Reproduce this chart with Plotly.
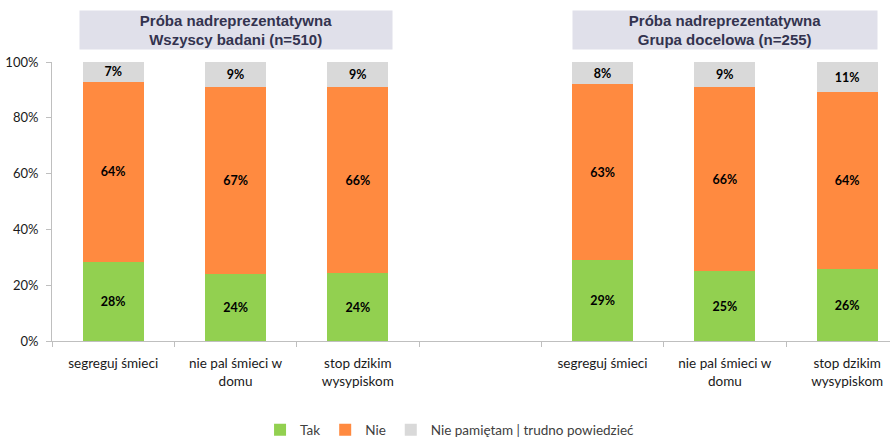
import plotly.graph_objects as go

# ---- data ----
groups = ["Wszyscy badani (n=510)", "Grupa docelowa (n=255)"]
group_ids = ["all", "target"]
categories = ["segreguj śmieci", "nie pal śmieci w<br>domu", "stop dzikim<br>wysypiskom"]
series_names = ["Tak", "Nie", "Nie pamiętam | trudno powiedzieć"]
tak_all = [28, 24, 24]
nie_all = [64, 67, 66]
np_all = [7, 9, 9]
tak_target = [29, 25, 26]
nie_target = [63, 66, 64]
np_target = [8, 9, 11]
title_prefix = "Próba nadreprezentatywna"

colors = ["#92D050", "#FF8A40", "#D9D9D9"]

# build category ids: group1 cats, a gap slot, group2 cats
ids_all = [f"{group_ids[0]}|{c}" for c in categories]
ids_target = [f"{group_ids[1]}|{c}" for c in categories]
gap_id = "gap"
cat_order = ids_all + [gap_id] + ids_target
tick_text = categories + [""] + categories

series_all = [tak_all, nie_all, np_all]
series_target = [tak_target, nie_target, np_target]

fig = go.Figure()
for name, col, va, vt in zip(series_names, colors, series_all, series_target):
    vals = va + vt
    fig.add_trace(go.Bar(
        x=ids_all + ids_target,
        y=vals,
        name=name,
        marker=dict(color=col, line=dict(width=0)),
        width=0.5,
        text=[f"{v}%" for v in vals],
        texttemplate="%{text}",
        textposition="inside",
        insidetextanchor="middle",
        textangle=0,
        constraintext="none",
        textfont=dict(family="Lato", size=12.5, color="#000000", weight="bold"),
        hoverinfo="skip",
    ))

fig.update_layout(
    barmode="stack",
    barnorm="percent",
    width=890, height=438,
    margin=dict(l=52, r=0, t=62, b=97, autoexpand=False),
    paper_bgcolor="white",
    plot_bgcolor="white",
    showlegend=True,
    legend=dict(
        orientation="h",
        x=0.475, xanchor="center",
        y=-0.319, yanchor="middle",
        font=dict(family="Lato", size=13.5, color="#404040"),
        itemwidth=30,
        traceorder="normal",
    ),
    xaxis=dict(
        type="category",
        categoryorder="array",
        categoryarray=cat_order,
        tickmode="array",
        tickvals=cat_order,
        ticktext=tick_text,
        tickson="boundaries",
        ticks="outside",
        ticklen=5,
        tickcolor="#BFBFBF",
        showline=True,
        linecolor="#BFBFBF",
        linewidth=1,
        showgrid=False,
        range=[-0.5, 6.35],
        tickfont=dict(family="Lato", size=13.5, color="#1a1a1a"),
        ticklabelstandoff=10,
    ),
    yaxis=dict(
        range=[0, 100],
        tickvals=[0, 20, 40, 60, 80, 100],
        ticktext=["0%", "20%", "40%", "60%", "80%", "100%"],
        ticks="outside",
        ticklen=5,
        tickcolor="#BFBFBF",
        showline=True,
        linecolor="#BFBFBF",
        linewidth=1,
        showgrid=False,
        zeroline=False,
        tickfont=dict(family="Lato", size=13, color="#1a1a1a"),
        ticklabelstandoff=5,
    ),
)

box_widths = [312, 304]
mid_ids = [ids_all[1], ids_target[1]]
for g, mid, w in zip(groups, mid_ids, box_widths):
    fig.add_annotation(
        x=mid, xref="x",
        y=1.1147, yref="paper",
        xanchor="center", yanchor="middle",
        text=f"<b>{title_prefix}<br>{g}</b>",
        showarrow=False,
        bgcolor="#E0E0EA",
        width=w, height=38,
        borderpad=0,
        font=dict(family="Liberation Sans", size=15, color="#33334F"),
        align="center",
    )

fig.write_html("out.html")
